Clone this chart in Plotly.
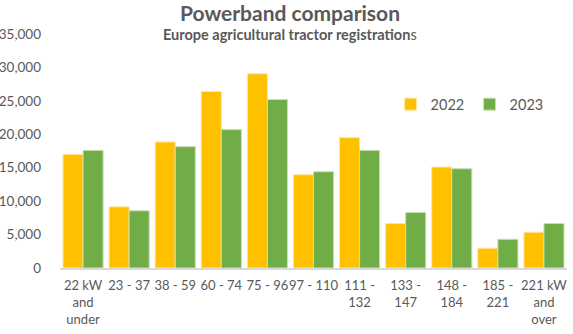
import plotly.graph_objects as go

categories = ["22 kW<br>and<br>under", "23 - 37", "38 - 59", "60 - 74", "75 - 96", "97 - 110",
              "111 -<br>132", "133 -<br>147", "148 -<br>184", "185 -<br>221", "221 kW<br>and<br>over"]
values_2022 = [17000, 9150, 18850, 26400, 29050, 13950, 19500, 6650, 15100, 2950, 5350]
values_2023 = [17600, 8550, 18150, 20700, 25200, 14400, 17600, 8300, 14850, 4300, 6650]
y_ticks = [0, 5000, 10000, 15000, 20000, 25000, 30000, 35000]

gray = "#595959"
font_family = "Lato, 'Open Sans', sans-serif"

fig = go.Figure()
fig.add_trace(go.Bar(name="2022", x=categories, y=values_2022,
                     marker=dict(color="#FFC000", line=dict(color="#FFE699", width=1))))
fig.add_trace(go.Bar(name="2023", x=categories, y=values_2023,
                     marker=dict(color="#70AD47", line=dict(color="#C5E0B4", width=1))))

fig.update_layout(
    width=573, height=334,
    margin=dict(l=60, r=6, t=34, b=66, autoexpand=False),
    plot_bgcolor="white", paper_bgcolor="white",
    barmode="group", bargap=0.13, bargroupgap=0.0,
    font=dict(family=font_family, color=gray, size=13),
    title=dict(text="<b>Powerband comparison</b>", x=290/573, xref="container", xanchor="center",
               y=1 - 14/334, yref="container", yanchor="middle",
               font=dict(size=21, color=gray, family=font_family)),
    legend=dict(orientation="h", x=0.652, y=0.70, xanchor="left", yanchor="middle",
                font=dict(size=14.5, color=gray), itemwidth=30, bgcolor="rgba(0,0,0,0)",
                traceorder="normal", entrywidth=34),
    annotations=[dict(text="<b>Europe agricultural tractor registration</b>s", x=(290-60)/507, xref="paper",
                      y=(268.5-35)/234.5, yref="paper", xanchor="center", yanchor="middle", showarrow=False,
                      font=dict(size=14.5, color=gray))],
    showlegend=True,
)
fig.update_xaxes(showline=True, linecolor="#D9D9D9", linewidth=1.5, ticks="",
                 tickfont=dict(size=13, color=gray), tickangle=0, ticklabelstandoff=5)
fig.update_yaxes(range=[0, 35000], tickvals=y_ticks, tickformat=",", showgrid=False,
                 zeroline=False, showline=False, ticks="", ticklabelstandoff=18,
                 tickfont=dict(size=13.5, color=gray))

fig.write_html("out.html")
